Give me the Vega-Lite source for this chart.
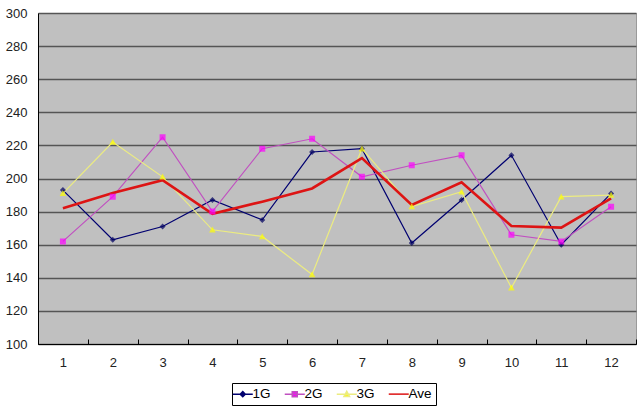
{
  "$schema": "https://vega.github.io/schema/vega-lite/v6.json",
  "width": 598,
  "height": 331,
  "autosize": {"type": "none"},
  "padding": {"left": 38, "top": 13, "right": 4, "bottom": 63},
  "background": "white",
  "config": {
    "view": {"fill": "#c0c0c0", "stroke": "#9a9a9a", "strokeWidth": 1},
    "font": "Liberation Sans",
    "legend": {
      "labelFontSize": 13.5,
      "labelColor": "#000",
      "symbolSize": 100,
      "symbolStrokeWidth": 1.5,
      "strokeColor": "#000",
      "fillColor": "#fff",
      "padding": 4,
      "columnPadding": 10,
      "labelOffset": 3
    }
  },
  "data": {
    "values": [
      {"x": 1, "series": "1G", "value": 193}, {"x": 2, "series": "1G", "value": 163}, {"x": 3, "series": "1G", "value": 171}, {"x": 4, "series": "1G", "value": 187}, {"x": 5, "series": "1G", "value": 175}, {"x": 6, "series": "1G", "value": 216}, {"x": 7, "series": "1G", "value": 218}, {"x": 8, "series": "1G", "value": 161}, {"x": 9, "series": "1G", "value": 187}, {"x": 10, "series": "1G", "value": 214}, {"x": 11, "series": "1G", "value": 160}, {"x": 12, "series": "1G", "value": 191},
      {"x": 1, "series": "2G", "value": 162}, {"x": 2, "series": "2G", "value": 189}, {"x": 3, "series": "2G", "value": 225}, {"x": 4, "series": "2G", "value": 180}, {"x": 5, "series": "2G", "value": 218}, {"x": 6, "series": "2G", "value": 224}, {"x": 7, "series": "2G", "value": 201}, {"x": 8, "series": "2G", "value": 208}, {"x": 9, "series": "2G", "value": 214}, {"x": 10, "series": "2G", "value": 166}, {"x": 11, "series": "2G", "value": 162}, {"x": 12, "series": "2G", "value": 183},
      {"x": 1, "series": "3G", "value": 191}, {"x": 2, "series": "3G", "value": 222}, {"x": 3, "series": "3G", "value": 201}, {"x": 4, "series": "3G", "value": 169}, {"x": 5, "series": "3G", "value": 165}, {"x": 6, "series": "3G", "value": 142}, {"x": 7, "series": "3G", "value": 218}, {"x": 8, "series": "3G", "value": 183}, {"x": 9, "series": "3G", "value": 192}, {"x": 10, "series": "3G", "value": 134}, {"x": 11, "series": "3G", "value": 189}, {"x": 12, "series": "3G", "value": 190},
      {"x": 1, "series": "Ave", "value": 182}, {"x": 2, "series": "Ave", "value": 191.3}, {"x": 3, "series": "Ave", "value": 199}, {"x": 4, "series": "Ave", "value": 178.7}, {"x": 5, "series": "Ave", "value": 186}, {"x": 6, "series": "Ave", "value": 194}, {"x": 7, "series": "Ave", "value": 212.3}, {"x": 8, "series": "Ave", "value": 184}, {"x": 9, "series": "Ave", "value": 197.7}, {"x": 10, "series": "Ave", "value": 171.3}, {"x": 11, "series": "Ave", "value": 170.3}, {"x": 12, "series": "Ave", "value": 188}
    ]
  },
  "encoding": {
    "x": {
      "field": "x",
      "type": "ordinal",
      "scale": {"paddingInner": 0, "paddingOuter": 0},
      "axis": {
        "title": null,
        "labelAngle": 0,
        "tickBand": "extent",
        "tickSize": -5,
        "tickColor": "#000",
        "tickWidth": 1,
        "domainColor": "#000",
        "domainWidth": 1,
        "labelFontSize": 13,
        "labelColor": "#222",
        "labelPadding": 17,
        "grid": false
      }
    },
    "y": {
      "field": "value",
      "type": "quantitative",
      "scale": {"domain": [100, 300], "nice": false, "zero": false},
      "axis": {
        "title": null,
        "values": [100, 120, 140, 160, 180, 200, 220, 240, 260, 280, 300],
        "ticks": false,
        "labelPadding": 11,
        "labelFontSize": 13,
        "labelColor": "#222",
        "grid": true,
        "gridColor": "#555555",
        "gridWidth": 1.6,
        "domainColor": "#000",
        "domainWidth": 1
      }
    }
  },
  "layer": [
    {
      "mark": {"type": "line", "strokeWidth": 1.2},
      "transform": [{"filter": "datum.series != 'Ave'"}],
      "encoding": {
        "color": {
          "field": "series",
          "type": "nominal",
          "scale": {"domain": ["1G", "2G", "3G", "Ave"], "range": ["#000070", "#c050c0", "#ecec80", "#dd1414"]},
          "legend": {
            "orient": "none",
            "legendX": 194,
            "legendY": 370,
            "direction": "horizontal",
            "columns": 4,
            "title": null
          }
        }
      }
    },
    {
      "mark": {"type": "line", "strokeWidth": 2.6, "color": "#dd1414"},
      "transform": [{"filter": "datum.series == 'Ave'"}],
      "encoding": {}
    },
    {
      "mark": {"type": "point", "filled": true, "size": 144},
      "transform": [{"filter": "datum.series != 'Ave'"}],
      "encoding": {
        "fill": {
          "field": "series",
          "type": "nominal",
          "scale": {"domain": ["1G", "2G", "3G", "Ave"], "range": ["#000060", "#ff00ff", "#ffff00", "#dd1414"]},
          "legend": null
        },
        "shape": {
          "field": "series",
          "type": "nominal",
          "scale": {
            "domain": ["1G", "2G", "3G", "Ave"],
            "range": [
              "M-2,0L2,0M0,-0.5L0.5,0L0,0.5L-0.5,0Z",
              "M-2,0L2,0M-0.5,-0.5L0.5,-0.5L0.5,0.5L-0.5,0.5Z",
              "M-2,0L2,0M0,-0.55L0.55,0.45L-0.55,0.45Z",
              "M-2,0L2,0"
            ]
          },
          "legend": null
        }
      }
    }
  ]
}
